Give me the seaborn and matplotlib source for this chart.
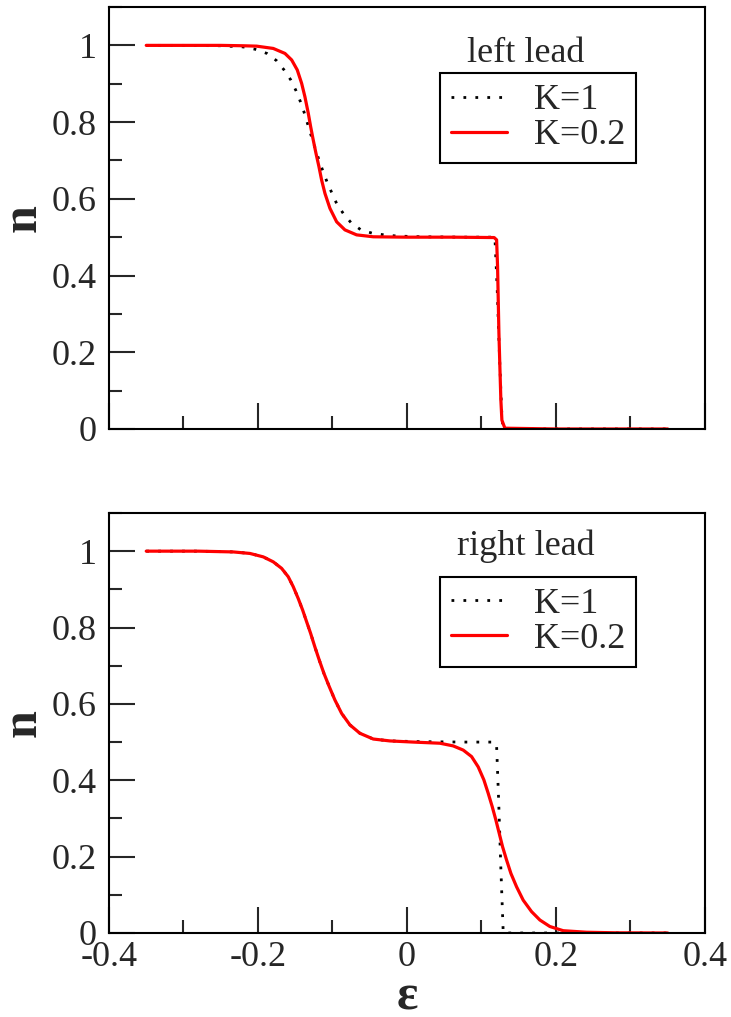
import matplotlib
matplotlib.use('Agg')
import matplotlib.pyplot as plt
import seaborn as sns
import pandas as pd
from matplotlib.ticker import MultipleLocator, FuncFormatter
from matplotlib.lines import Line2D

sns.set_style('ticks')
plt.rcParams['font.family'] = ['Liberation Serif', 'DejaVu Serif']
plt.rcParams['font.serif'] = ['Liberation Serif', 'DejaVu Serif']
plt.rcParams['axes.unicode_minus'] = False

# ============================================================
# 数据
# ============================================================
# 上图 left lead, K=1（点线）
eps_left_k1 = [-0.35, -0.30, -0.25, -0.22, -0.204, -0.188, -0.175, -0.165, -0.156,
               -0.149, -0.143, -0.138, -0.133, -0.1285, -0.1236, -0.1186, -0.113,
               -0.1075, -0.101, -0.0945, -0.0856, -0.0752, -0.0618, -0.046, -0.0305,
               -0.014, 0.02, 0.08, 0.118, 0.121, 0.124, 0.127, 0.129, 0.2, 0.35]
n_left_k1 = [1.0, 1.0, 0.999, 0.996, 0.990, 0.979, 0.960, 0.936, 0.910,
             0.882, 0.853, 0.825, 0.793, 0.764, 0.734, 0.704, 0.673,
             0.645, 0.616, 0.588, 0.562, 0.538, 0.519, 0.510, 0.506,
             0.503, 0.501, 0.500, 0.500, 0.37, 0.20, 0.05, 0.0, 0.0, 0.0]

# 上图 left lead, K=0.2（红线）
eps_left_k02 = [-0.35, -0.25, -0.22, -0.2018, -0.1795, -0.1638, -0.1548, -0.1473,
                -0.1414, -0.137, -0.1325, -0.1293, -0.1258, -0.1222, -0.1182, -0.1146,
                -0.1101, -0.1034, -0.0944, -0.0833, -0.0676, -0.0453, 0.0, 0.06,
                0.117, 0.1203, 0.1216, 0.1225, 0.1234, 0.1247, 0.126, 0.1274, 0.1314,
                0.2, 0.35]
n_left_k02 = [1.0, 1.0, 0.999, 0.998, 0.992, 0.979, 0.962, 0.936,
              0.901, 0.866, 0.823, 0.788, 0.753, 0.719, 0.684, 0.649,
              0.614, 0.575, 0.540, 0.519, 0.506, 0.501, 0.500, 0.500,
              0.499, 0.493, 0.423, 0.336, 0.250, 0.162, 0.076, 0.023, 0.002,
              0.0, 0.0]

# 下图 right lead, K=0.2（红线）
eps_right_k02 = [-0.35, -0.28, -0.2332, -0.2108, -0.1929, -0.1795, -0.1683, -0.1594,
                 -0.1527, -0.146, -0.1401, -0.1347, -0.1294, -0.1236, -0.1178, -0.1115,
                 -0.1043, -0.0967, -0.0877, -0.0766, -0.0632, -0.0453, -0.0229, 0.0084,
                 0.0442, 0.062, 0.0755, 0.0867, 0.0956, 0.1032, 0.109, 0.1144, 0.1193,
                 0.1238, 0.1283, 0.1337, 0.1395, 0.1471, 0.156, 0.1672, 0.1784, 0.1918,
                 0.2097, 0.241, 0.28, 0.35]
n_right_k02 = [1.0, 1.0, 0.998, 0.994, 0.985, 0.972, 0.955, 0.933,
               0.907, 0.876, 0.846, 0.815, 0.785, 0.749, 0.715, 0.680,
               0.645, 0.610, 0.575, 0.545, 0.523, 0.508, 0.503, 0.500,
               0.497, 0.490, 0.479, 0.462, 0.435, 0.401, 0.366, 0.331, 0.296,
               0.261, 0.226, 0.191, 0.156, 0.121, 0.086, 0.056, 0.034, 0.017,
               0.006, 0.002, 0.0005, 0.0]

# 下图 right lead, K=1（点线）：左侧与红线重合，右侧为陡降
eps_right_k1 = eps_right_k02[:23] + [0.02, 0.08, 0.118, 0.1203, 0.123, 0.126, 0.1292, 0.2, 0.35]
n_right_k1 = n_right_k02[:23] + [0.501, 0.500, 0.500, 0.49, 0.35, 0.17, 0.0, 0.0, 0.0]

PANELS = [
    ('left lead', eps_left_k1, n_left_k1, eps_left_k02, n_left_k02),
    ('right lead', eps_right_k1, n_right_k1, eps_right_k02, n_right_k02),
]

LABEL_K1 = 'K=1'
LABEL_K02 = 'K=0.2'
FS = 26
DOT_STYLE = dict(color='black', lw=2.0, linestyle=(0, (1, 3.3)))
RED_STYLE = dict(color='#ff0000', lw=2.3)


def fmt(v, pos):
    return '%g' % round(v, 3)


def style_axis(ax, show_xlabels):
    ax.set_xlim(-0.4, 0.4)
    ax.set_ylim(0, 1.1)
    ax.xaxis.set_major_locator(MultipleLocator(0.2))
    ax.xaxis.set_minor_locator(MultipleLocator(0.1))
    ax.yaxis.set_major_locator(MultipleLocator(0.2))
    ax.yaxis.set_minor_locator(MultipleLocator(0.1))
    ax.xaxis.set_major_formatter(FuncFormatter(fmt))
    ax.yaxis.set_major_formatter(FuncFormatter(fmt))
    ax.tick_params(which='major', direction='in', length=18.5, width=1.5,
                   labelsize=FS, top=False, right=False)
    ax.tick_params(which='minor', direction='in', length=9.5, width=1.5,
                   top=False, right=False)
    ax.tick_params(axis='y', which='major', pad=9)
    ax.tick_params(axis='x', which='major', pad=6, labelbottom=show_xlabels)
    for sp in ax.spines.values():
        sp.set_linewidth(1.5)
        sp.set_color('black')
        sp.set_visible(True)
    ax.set_ylabel('n', fontsize=36, fontweight='bold')
    ax.yaxis.set_label_coords(-0.105, 0.5)
    ax.grid(False)


def main():
    fig = plt.figure(figsize=(7.31, 10.17), dpi=100)
    ax_top = fig.add_axes([0.1491, 0.5782, 0.8153, 0.4149])
    ax_bot = fig.add_axes([0.1491, 0.0826, 0.8153, 0.4130])

    title_y = [0.870, 0.900]
    leg_top = [0.843, 0.848]

    for i, (ax, (title, e1, n1, e2, n2)) in enumerate(zip([ax_top, ax_bot], PANELS)):
        df1 = pd.DataFrame({'eps': e1, 'n': n1})
        df2 = pd.DataFrame({'eps': e2, 'n': n2})
        sns.lineplot(data=df1, x='eps', y='n', ax=ax, sort=False, estimator=None, **DOT_STYLE)
        sns.lineplot(data=df2, x='eps', y='n', ax=ax, sort=False, estimator=None, **RED_STYLE)
        style_axis(ax, show_xlabels=(i == 1))
        ax.set_xlabel('')

        ax.text(0.70, title_y[i], title, transform=ax.transAxes, ha='center',
                va='baseline', fontsize=FS)

        handles = [Line2D([], [], **DOT_STYLE), Line2D([], [], **RED_STYLE)]
        leg = ax.legend(handles, [LABEL_K1, LABEL_K02], loc='upper left',
                        bbox_to_anchor=(0.555, leg_top[i]), fontsize=FS,
                        frameon=True, fancybox=False, edgecolor='black',
                        framealpha=1, borderaxespad=0, borderpad=0.3,
                        handlelength=1.55, handletextpad=0.75, labelspacing=0.05)
        leg.get_frame().set_linewidth(1.5)

    ax_bot.set_xlabel('\u03b5', fontsize=36, fontweight='bold')
    ax_bot.xaxis.set_label_coords(0.5, -0.10)

    fig.savefig('out.png', dpi=100)
    plt.close(fig)


if __name__ == '__main__':
    main()
